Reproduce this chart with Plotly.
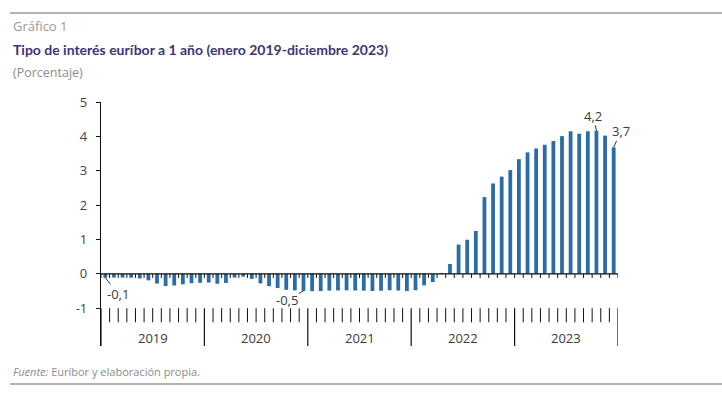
import plotly.graph_objects as go

# ---- data ----
years = ["2019", "2020", "2021", "2022", "2023"]
months_per_year = 12
euribor = [
    # 2019
    -0.116, -0.108, -0.109, -0.112, -0.134, -0.190, -0.283, -0.356, -0.339, -0.304, -0.272, -0.261,
    # 2020
    -0.253, -0.288, -0.266, -0.108, -0.081, -0.147, -0.279, -0.359, -0.415, -0.466, -0.481, -0.497,
    # 2021
    -0.505, -0.501, -0.487, -0.484, -0.481, -0.484, -0.491, -0.498, -0.492, -0.477, -0.487, -0.502,
    # 2022
    -0.477, -0.335, -0.237, 0.013, 0.287, 0.852, 0.992, 1.249, 2.233, 2.629, 2.828, 3.018,
    # 2023
    3.337, 3.534, 3.647, 3.757, 3.862, 4.007, 4.149, 4.073, 4.149, 4.160, 4.022, 3.679,
]
y_ticks = [-1, 0, 1, 2, 3, 4, 5]
labels = [(0, "-0,1"), (23, "-0,5"), (57, "4,2"), (59, "3,7")]

idx = list(range(len(euribor)))
n = len(euribor)
BAR = "#2b6ca6"
GRAY_TXT = "#8c8c8c"
DARK = "#3a3a3a"

fig = go.Figure()
fig.add_trace(go.Bar(x=idx, y=euribor, width=0.44, marker=dict(color=BAR, line_width=0),
                     hoverinfo="skip"))

Y_BOT = -2.1
shapes = []
# zero line
shapes.append(dict(type="line", xref="x", yref="y", x0=-0.5, x1=n - 0.5, y0=0, y1=0,
                   line=dict(color="#111", width=1.2), layer="above"))
for k in range(n + 1):
    b = k - 0.5
    # small ticks below zero line
    shapes.append(dict(type="line", xref="x", yref="y", x0=b, x1=b, y0=0, y1=-0.12,
                       line=dict(color="#111", width=1), layer="above"))
    if k % months_per_year == 0:
        shapes.append(dict(type="line", xref="x", yref="y", x0=b, x1=b, y0=-1, y1=Y_BOT,
                           line=dict(color="#111", width=1.2), layer="above"))
    else:
        shapes.append(dict(type="line", xref="x", yref="y", x0=b, x1=b, y0=-1, y1=-1.41,
                           line=dict(color="#111", width=1), layer="above"))

annotations = []
for j, yr in enumerate(years):
    annotations.append(dict(x=j * months_per_year + (months_per_year - 1) / 2, y=-1.86,
                            xref="x", yref="y", text=yr, showarrow=False,
                            font=dict(family="Open Sans", size=13, color=DARK)))

offsets = {0: (13, 16), 23: (-16, 9), 57: (-3, -15), 59: (7, -16)}
for i, t in labels:
    ax, ay = offsets[i]
    annotations.append(dict(x=i, y=euribor[i], xref="x", yref="y", text=t,
                            showarrow=True, arrowhead=0, arrowwidth=0.9, arrowcolor="#222",
                            ax=ax, ay=ay, standoff=0, borderpad=0,
                            font=dict(family="Open Sans", size=13, color=DARK)))

# header / footer texts
annotations += [
    dict(xref="paper", yref="paper", x=0, y=0, text="Gráfico 1", showarrow=False,
         xanchor="left", yanchor="middle", font=dict(family="Open Sans", size=13, color="#9a9a9a")),
    dict(xref="paper", yref="paper", x=0, y=0,
         text="Tipo de interés euríbor a 1 año (enero 2019-diciembre 2023)", showarrow=False,
         xanchor="left", yanchor="middle",
         font=dict(family="Lato", size=14, color="#3b3678", weight="bold")),
    dict(xref="paper", yref="paper", x=0, y=0, text="(Porcentaje)", showarrow=False,
         xanchor="left", yanchor="middle", font=dict(family="Open Sans", size=12.5, color=GRAY_TXT)),
    dict(xref="paper", yref="paper", x=0, y=0,
         text="<i>Fuente:</i> Euríbor y elaboración propia.", showarrow=False,
         xanchor="left", yanchor="middle", font=dict(family="Open Sans", size=11, color=GRAY_TXT)),
]

W, H = 722, 395
L, R, T, B = 101, 104, 102, 49
pw, ph = W - L - R, H - T - B


def px_x(px):
    return (px - L) / pw


def px_y(py):
    return (H - B - py) / ph


# position header/footer annotations via pixel -> paper conversion
pos = [(11, 26), (11, 49), (11, 73), (11, 371)]
for a, (x, y) in zip(annotations[-4:], pos):
    a["x"] = px_x(x)
    a["y"] = px_y(y)

# horizontal rules
shapes.append(dict(type="line", xref="paper", yref="paper", x0=px_x(10), x1=px_x(722),
                   y0=px_y(13), y1=px_y(13), line=dict(color="#9a9a9a", width=1.5)))
shapes.append(dict(type="line", xref="paper", yref="paper", x0=px_x(10), x1=px_x(722),
                   y0=px_y(384), y1=px_y(384), line=dict(color="#9a9a9a", width=1.5)))

fig.update_layout(
    width=W, height=H, margin=dict(l=L, r=R, t=T, b=B),
    paper_bgcolor="white", plot_bgcolor="white", showlegend=False,
    shapes=shapes, annotations=annotations,
    xaxis=dict(range=[-0.5, n - 0.5], visible=False, fixedrange=True),
    yaxis=dict(range=[Y_BOT, 5], tickvals=y_ticks, ticktext=[str(v) for v in y_ticks],
               showgrid=False, zeroline=False, showline=True, linecolor="#111", linewidth=1.2,
               ticks="outside", ticklen=4, tickcolor="#111", tickwidth=1.2,
               tickfont=dict(family="Open Sans", size=13, color="#444"), ticklabelstandoff=6,
               fixedrange=True),
)

fig.write_html("out.html", config={"displayModeBar": False},
               post_script="document.body.style.margin='0';document.body.style.overflow='hidden';")
